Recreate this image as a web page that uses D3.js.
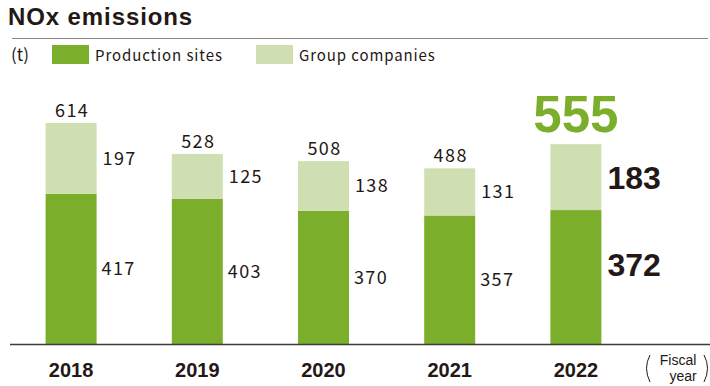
<!DOCTYPE html>
<html>
<head>
<meta charset="utf-8">
<script src="https://cdn.jsdelivr.net/npm/d3@7"></script>
<style>
  body { margin: 0; background: #fff; }
  svg text { fill: #231815; }
</style>
</head>
<body>
<div id="chart"></div>
<script>
// --- Data ---
const years = ["2018", "2019", "2020", "2021", "2022"];
const productionSites = [417, 403, 370, 357, 372];
const groupCompanies = [197, 125, 138, 131, 183];
const totals = [614, 528, 508, 488, 555];
const seriesNames = ["Production sites", "Group companies"];

const colors = { prod: "#7bae2a", group: "#cfdfb2" };
const bodyFont = "'Noto Sans CJK JP', 'Noto Sans', sans-serif";
const boldFont = "'Liberation Sans', Arial, sans-serif";

const width = 710, height = 386;
const baseY = 344;

const svg = d3.select("#chart").append("svg")
    .attr("width", width)
    .attr("height", height);

// title
svg.append("text")
    .attr("x", 8).attr("y", 25)
    .attr("font-family", boldFont)
    .attr("font-weight", "bold")
    .attr("font-size", 24)
    .attr("letter-spacing", 0.9)
    .text("NOx emissions");

svg.append("line")
    .attr("x1", 12).attr("x2", 708)
    .attr("y1", 38.5).attr("y2", 38.5)
    .attr("stroke", "#8a8586").attr("stroke-width", 1);

// legend
svg.append("text")
    .attr("x", 11).attr("y", 61)
    .attr("font-family", bodyFont).attr("font-size", 17)
    .text("(t)");

const legendX = [52, 256];
[colors.prod, colors.group].forEach((c, i) => {
    svg.append("rect")
        .attr("x", legendX[i]).attr("y", 45)
        .attr("width", 37).attr("height", 19)
        .attr("fill", c);
    svg.append("text")
        .attr("x", legendX[i] + 43).attr("y", 61)
        .attr("font-family", bodyFont).attr("font-size", 15)
        .attr("letter-spacing", 0.9)
        .text(seriesNames[i]);
});

// scales
const x = d3.scaleBand()
    .domain(years)
    .range([8, 639])
    .paddingInner(0.596)
    .paddingOuter(0.298);

const y = d3.scaleLinear()
    .domain([0, 600])
    .range([baseY, baseY - 216]);

const bw = x.bandwidth();

// bars
const g = svg.append("g");
years.forEach((yr, i) => {
    const x0 = x(yr);
    const p = productionSites[i], gc = groupCompanies[i];
    g.append("rect")
        .attr("x", x0).attr("width", bw)
        .attr("y", y(p)).attr("height", y(0) - y(p))
        .attr("fill", colors.prod);
    g.append("rect")
        .attr("x", x0).attr("width", bw)
        .attr("y", y(p + gc)).attr("height", y(p) - y(p + gc))
        .attr("fill", colors.group);

    const last = i === years.length - 1;
    if (!last) {
        g.append("text")
            .attr("x", x0 + bw / 2 + 1).attr("y", y(totals[i]) - 6)
            .attr("text-anchor", "middle")
            .attr("font-family", bodyFont).attr("font-size", 18)
            .attr("letter-spacing", 1.4)
            .text(totals[i]);
        g.append("text")
            .attr("x", x0 + bw + 6).attr("y", (y(p) + y(p + gc)) / 2)
            .attr("dy", "0.36em")
            .attr("font-family", bodyFont).attr("font-size", 18)
            .attr("letter-spacing", 1.4)
            .text(gc);
        g.append("text")
            .attr("x", x0 + bw + 5).attr("y", (y(0) + y(p)) / 2)
            .attr("dy", "0.36em")
            .attr("font-family", bodyFont).attr("font-size", 18)
            .attr("letter-spacing", 1.4)
            .text(p);
    } else {
        g.append("text")
            .attr("x", x0 + bw / 2).attr("y", y(totals[i]) - 12)
            .attr("text-anchor", "middle")
            .attr("font-family", boldFont).attr("font-weight", "bold")
            .attr("font-size", 51)
            .style("fill", colors.prod)
            .text(totals[i]);
        g.append("text")
            .attr("x", x0 + bw + 6).attr("y", (y(p) + y(p + gc)) / 2)
            .attr("dy", "0.36em")
            .attr("font-family", boldFont).attr("font-weight", "bold")
            .attr("font-size", 32)
            .text(gc);
        g.append("text")
            .attr("x", x0 + bw + 6).attr("y", (y(0) + y(p)) / 2 - 13)
            .attr("dy", "0.36em")
            .attr("font-family", boldFont).attr("font-weight", "bold")
            .attr("font-size", 32)
            .text(p);
    }
});

// axis
const xAxis = d3.axisBottom(x).tickSize(0).tickPadding(0);
const ax = svg.append("g")
    .attr("transform", `translate(0,${baseY})`)
    .call(xAxis);
ax.select(".domain").remove();
ax.selectAll("text")
    .attr("y", 33)
    .attr("dy", 0)
    .attr("font-family", boldFont)
    .attr("font-weight", "bold")
    .attr("font-size", 20)
    .style("fill", "#231815");

svg.append("line")
    .attr("x1", 10).attr("x2", 710)
    .attr("y1", baseY + 0.5).attr("y2", baseY + 0.5)
    .attr("stroke", "#3e3a39").attr("stroke-width", 1.3);

// "(Fiscal year)"
const fy = svg.append("g");
fy.append("path")
    .attr("d", "M650,355 Q643,368 650,382")
    .attr("fill", "none").attr("stroke", "#231815").attr("stroke-width", 1);
fy.append("path")
    .attr("d", "M704,355 Q711,368 704,382")
    .attr("fill", "none").attr("stroke", "#231815").attr("stroke-width", 1);
fy.append("text")
    .attr("x", 678).attr("y", 365)
    .attr("text-anchor", "middle")
    .attr("font-family", boldFont).attr("font-size", 14)
    .text("Fiscal");
fy.append("text")
    .attr("x", 683).attr("y", 381)
    .attr("text-anchor", "middle")
    .attr("font-family", boldFont).attr("font-size", 14)
    .text("year");
</script>
</body>
</html>
